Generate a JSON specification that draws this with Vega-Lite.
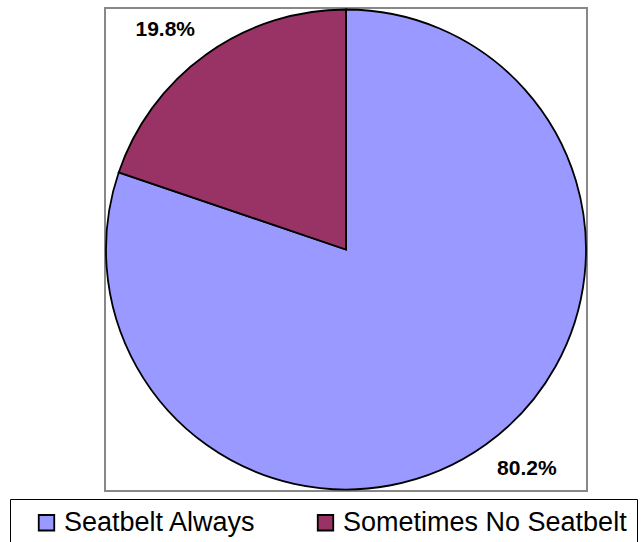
{
  "$schema": "https://vega.github.io/schema/vega-lite/v6.json",
  "width": 482,
  "height": 483,
  "autosize": {"type": "none"},
  "padding": {"left": 105, "top": 8, "right": 55, "bottom": 51},
  "background": "#ffffff",
  "view": {"stroke": "#888888", "strokeWidth": 2, "fill": "#ffffff"},
  "config": {
    "view": {"stroke": "#888888", "strokeWidth": 2},
    "font": "Liberation Sans"
  },
  "data": {
    "values": [
      {"category": "Seatbelt Always", "value": 80.2, "pct": "80.2%", "rank": 1},
      {"category": "Sometimes No Seatbelt", "value": 19.8, "pct": "19.8%", "rank": 2}
    ]
  },
  "encoding": {
    "theta": {"field": "value", "type": "quantitative", "stack": true},
    "order": {"field": "rank", "type": "quantitative"}
  },
  "layer": [
    {
      "mark": {"type": "arc", "outerRadius": 240, "stroke": "#000000", "strokeWidth": 1.8},
      "encoding": {
        "color": {
          "field": "category",
          "type": "nominal",
          "scale": {"domain": ["Seatbelt Always", "Sometimes No Seatbelt"], "range": ["#9999FF", "#993366"]},
          "legend": {
            "orient": "none",
            "direction": "horizontal",
            "legendX": -95,
            "legendY": 491,
            "title": " ",
            "titleOrient": "left",
            "titlePadding": 13,
            "titleFontSize": 12,
            "padding": 10,
            "strokeColor": "#000000",
            "fillColor": "#ffffff",
            "symbolType": "square",
            "symbolSize": 240,
            "symbolStrokeColor": "#000000",
            "symbolStrokeWidth": 1.8,
            "labelFontSize": 27,
            "labelFont": "Liberation Sans",
            "labelColor": "#000000",
            "labelOffset": 4,
            "labelLimit": 800,
            "columnPadding": 55,
            "labelExpr": "datum.label == 'Sometimes No Seatbelt' ? datum.label + '\u00a0\u00a0\u00a0\u00a0\u00a0\u00a0\u00a0\u00a0\u00a0\u00a0' : datum.label"
          }
        }
      }
    },
    {
      "mark": {"type": "text", "radius": 284, "thetaOffset": -0.068, "fontSize": 21, "fontWeight": "bold", "font": "Liberation Sans", "color": "#000000"},
      "encoding": {
        "text": {"field": "pct", "type": "nominal"}
      }
    }
  ]
}
